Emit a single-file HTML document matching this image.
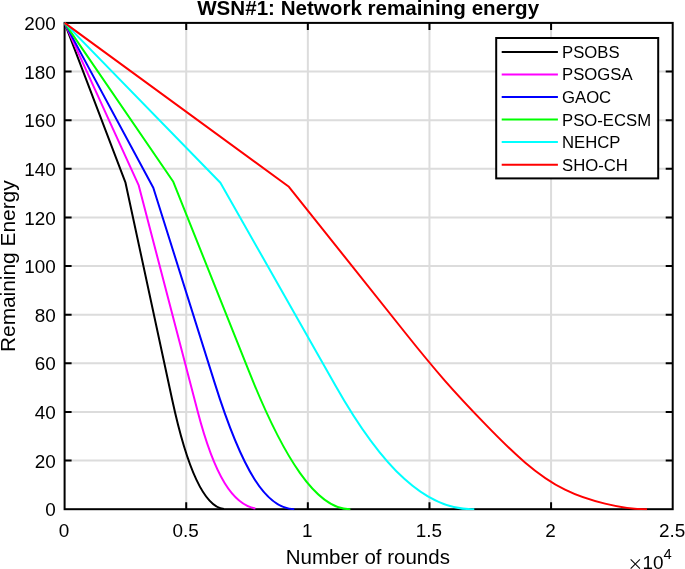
<!DOCTYPE html>
<html lang="en"><head><meta charset="utf-8"><title>WSN#1: Network remaining energy</title>
<style>html,body{margin:0;padding:0;background:#fff}svg{display:block}text{font-family:"Liberation Sans",sans-serif}</style></head><body>
<svg width="685" height="569" viewBox="0 0 685 569" style="will-change:transform">
<rect width="685" height="569" fill="#fff"/>
<path d="M186.22,22.9V509.2M307.84,22.9V509.2M429.46,22.9V509.2M551.08,22.9V509.2M64.6,460.57H672.7M64.6,411.94H672.7M64.6,363.31H672.7M64.6,314.68H672.7M64.6,266.05H672.7M64.6,217.42H672.7M64.6,168.79H672.7M64.6,120.16H672.7M64.6,71.53H672.7" stroke="#dcdcdc" stroke-width="2" fill="none"/>
<path d="M186.22,509.2v-7.0M186.22,22.9v7.0M307.84,509.2v-7.0M307.84,22.9v7.0M429.46,509.2v-7.0M429.46,22.9v7.0M551.08,509.2v-7.0M551.08,22.9v7.0M64.6,460.57h7.0M672.7,460.57h-7.0M64.6,411.94h7.0M672.7,411.94h-7.0M64.6,363.31h7.0M672.7,363.31h-7.0M64.6,314.68h7.0M672.7,314.68h-7.0M64.6,266.05h7.0M672.7,266.05h-7.0M64.6,217.42h7.0M672.7,217.42h-7.0M64.6,168.79h7.0M672.7,168.79h-7.0M64.6,120.16h7.0M672.7,120.16h-7.0M64.6,71.53h7.0M672.7,71.53h-7.0" stroke="#000" stroke-width="2" fill="none"/>
<rect x="64.6" y="22.9" width="608.10" height="486.30" fill="none" stroke="#000" stroke-width="2"/>
<clipPath id="c"><rect x="63.6" y="21.9" width="610.1" height="488.3"/></clipPath>
<g clip-path="url(#c)" fill="none" stroke-width="2" stroke-linejoin="round">
<path d="M64.6,22.9L125.5,182.7L172.2,399.7C190.1,482.7 208.8,507.3 224.0,509.1" stroke="#000000"/>
<path d="M64.6,22.9L138.6,185.1L197.5,410.8C215.0,478.0 233.4,504.3 255.4,508.6" stroke="#ff00ff"/>
<path d="M64.6,22.9L153.3,187.7L214.5,382.4C242.6,471.9 266.5,508.8 294.3,509.2" stroke="#0000ff"/>
<path d="M64.6,22.9L173.3,181.8L248.9,371.2C283.6,458.3 316.5,509.2 349.7,509.2H350.4" stroke="#00ff00"/>
<path d="M64.6,22.9L220.4,182.7L335.4,385.4C383.4,470.2 426.6,509.2 471.4,509.2H474.3" stroke="#00ffff"/>
<path d="M64.6,22.9L288.9,186.8L405.0,332.5C418.3,349.2 431.7,365.6 445.0,380.8C458.3,396.0 471.7,410.1 485.0,423.9C498.3,437.7 511.7,451.1 525.0,462.4C538.3,473.8 551.7,483.0 565.0,489.7C578.3,496.3 591.7,500.5 605.0,503.6C619.0,507.0 633.0,509.2 647.0,509.2" stroke="#ff0000"/>
</g>
<text transform="translate(55.70,516.35) scale(1.027,1)" font-size="18.4" text-anchor="end" font-weight="normal" fill="#000">0</text>
<text transform="translate(55.70,467.72) scale(1.027,1)" font-size="18.4" text-anchor="end" font-weight="normal" fill="#000">20</text>
<text transform="translate(55.70,419.09) scale(1.027,1)" font-size="18.4" text-anchor="end" font-weight="normal" fill="#000">40</text>
<text transform="translate(55.70,370.46) scale(1.027,1)" font-size="18.4" text-anchor="end" font-weight="normal" fill="#000">60</text>
<text transform="translate(55.70,321.83) scale(1.027,1)" font-size="18.4" text-anchor="end" font-weight="normal" fill="#000">80</text>
<text transform="translate(55.70,273.20) scale(1.027,1)" font-size="18.4" text-anchor="end" font-weight="normal" fill="#000">100</text>
<text transform="translate(55.70,224.57) scale(1.027,1)" font-size="18.4" text-anchor="end" font-weight="normal" fill="#000">120</text>
<text transform="translate(55.70,175.94) scale(1.027,1)" font-size="18.4" text-anchor="end" font-weight="normal" fill="#000">140</text>
<text transform="translate(55.70,127.31) scale(1.027,1)" font-size="18.4" text-anchor="end" font-weight="normal" fill="#000">160</text>
<text transform="translate(55.70,78.68) scale(1.027,1)" font-size="18.4" text-anchor="end" font-weight="normal" fill="#000">180</text>
<text transform="translate(55.70,30.05) scale(1.027,1)" font-size="18.4" text-anchor="end" font-weight="normal" fill="#000">200</text>
<text transform="translate(64.10,536.50) scale(1.027,1)" font-size="18.4" text-anchor="middle" font-weight="normal" fill="#000">0</text>
<text transform="translate(185.72,536.50) scale(1.027,1)" font-size="18.4" text-anchor="middle" font-weight="normal" fill="#000">0.5</text>
<text transform="translate(307.34,536.50) scale(1.027,1)" font-size="18.4" text-anchor="middle" font-weight="normal" fill="#000">1</text>
<text transform="translate(428.96,536.50) scale(1.027,1)" font-size="18.4" text-anchor="middle" font-weight="normal" fill="#000">1.5</text>
<text transform="translate(550.58,536.50) scale(1.027,1)" font-size="18.4" text-anchor="middle" font-weight="normal" fill="#000">2</text>
<text transform="translate(672.20,536.50) scale(1.027,1)" font-size="18.4" text-anchor="middle" font-weight="normal" fill="#000">2.5</text>
<text x="627.6" y="570.4" font-size="15.6" fill="#000" style="font-family:'Noto Sans CJK SC','Liberation Sans',sans-serif">×</text>
<text transform="translate(642.60,569.30) scale(1.027,1)" font-size="18.4" text-anchor="start" font-weight="normal" fill="#000">10</text>
<text transform="translate(663.40,559.20) scale(1.027,1)" font-size="14.4" text-anchor="start" font-weight="normal" fill="#000">4</text>
<text transform="translate(368.15,14.60) scale(1.0143,1)" font-size="20.3" text-anchor="middle" font-weight="bold" fill="#000">WSN#1: Network remaining energy</text>
<text transform="translate(367.85,564.30) scale(1.025,1)" font-size="20.0" text-anchor="middle" font-weight="normal" fill="#000">Number of rounds</text>
<text transform="translate(14.70,266.20) rotate(-90) scale(1.034,1)" font-size="20.2" text-anchor="middle" font-weight="normal" fill="#000">Remaining Energy</text>
<rect x="496.2" y="38" width="162.0" height="140.4" fill="#fff" stroke="#000" stroke-width="2"/>
<path d="M501.7,51.90H557.9" stroke="#000000" stroke-width="2"/>
<text transform="translate(562.00,57.90) scale(1.025,1)" font-size="16.3" text-anchor="start" font-weight="normal" fill="#000">PSOBS</text>
<path d="M501.7,74.45H557.9" stroke="#ff00ff" stroke-width="2"/>
<text transform="translate(562.00,80.45) scale(1.025,1)" font-size="16.3" text-anchor="start" font-weight="normal" fill="#000">PSOGSA</text>
<path d="M501.7,97.00H557.9" stroke="#0000ff" stroke-width="2"/>
<text transform="translate(562.00,103.00) scale(1.025,1)" font-size="16.3" text-anchor="start" font-weight="normal" fill="#000">GAOC</text>
<path d="M501.7,119.55H557.9" stroke="#00ff00" stroke-width="2"/>
<text transform="translate(562.00,125.55) scale(1.025,1)" font-size="16.3" text-anchor="start" font-weight="normal" fill="#000">PSO-ECSM</text>
<path d="M501.7,142.10H557.9" stroke="#00ffff" stroke-width="2"/>
<text transform="translate(562.00,148.10) scale(1.025,1)" font-size="16.3" text-anchor="start" font-weight="normal" fill="#000">NEHCP</text>
<path d="M501.7,164.65H557.9" stroke="#ff0000" stroke-width="2"/>
<text transform="translate(562.00,170.65) scale(1.025,1)" font-size="16.3" text-anchor="start" font-weight="normal" fill="#000">SHO-CH</text>
</svg></body></html>
